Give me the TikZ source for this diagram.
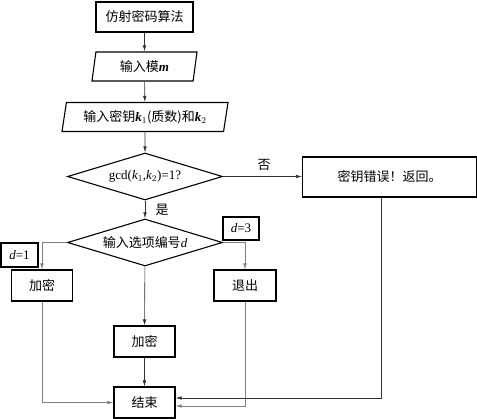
\documentclass[tikz,border=0pt]{standalone}
\usepackage{fontspec}
\setmainfont{Liberation Serif}
\newfontfamily\cjk{Noto Sans CJK SC}
\usetikzlibrary{positioning, arrows.meta, shapes.geometric}
\newcommand{\lat}[1]{{\rmfamily\itshape #1}}
\newcommand{\latb}[1]{{\rmfamily\bfseries\itshape #1}}

\begin{document}
\begin{tikzpicture}[
      x=1pt, y=-1pt,
      every node/.style={font=\cjk\fontsize{13}{15}\selectfont},
      procbox/.style={draw, line width=1.1pt, minimum width=61pt, minimum height=31pt, inner sep=0pt},
      iobox/.style={draw, line width=1.1pt, trapezium, trapezium left angle=72, trapezium right angle=108,
        minimum height=29pt, inner sep=0pt},
      testbox/.style={draw, line width=1.1pt, diamond, aspect=3.3, minimum width=155pt, minimum height=47pt, inner sep=0pt},
      tagbox/.style={draw, line width=1.1pt, inner sep=0pt},
      flow/.style={-{Latex[length=6pt,width=3.5pt]}, line width=0.6pt, black!80},
      branch/.style={flow, black!50},
    ]
    \useasboundingbox (0,0) rectangle (477,419);
    % main column
    \node[procbox, minimum width=97pt, minimum height=30pt] (start) at (144.5,17) {仿射密码算法};
    \node[iobox, trapezium stretches body, minimum width=105pt] (modm) at (144.5,66.5) {输入模\latb{m}};
    \node[iobox, trapezium stretches body, minimum width=166pt] (keys) at (145,117) {输入密钥\latb{k}$_1$(质数)和\latb{k}$_2$};
    \node[testbox] (gcd) at (145,176.5) {\rmfamily gcd(\lat{k}$_1$,\lat{k}$_2$)=1?};
    \node[procbox, minimum width=174pt, minimum height=40pt] (err) at (389.5,177) {密钥错误！返回。};
    \node[testbox] (opt) at (145,242.5) {输入选项编号\lat{d}};
    % branches
    \node[procbox] (enc1) at (42,285.5) {加密};
    \node[procbox, minimum width=62pt] (quit) at (245,285.5) {退出};
    \node[procbox] (enc2) at (144.5,341.5) {加密};
    \node[procbox] (stop) at (144.5,402.5) {结束};
    \node[tagbox, minimum width=37pt, minimum height=24pt] (tag1) at (19.5,255) {\rmfamily\lat{d}=1};
    \node[tagbox, minimum width=36pt, minimum height=23pt] (tag3) at (241,228.5) {\rmfamily\lat{d}=3};
    % labels
    \node (no) at (264,165) {否};
    \node (yes) at (162,210) {是};

    \draw[flow] (start) -- (modm);
    \draw[flow] (modm) -- (keys);
    \draw[flow] (keys) -- (gcd);
    \draw[flow] (gcd.east) -- (err.west |- gcd.east);
    \draw[flow] (gcd) -- (opt);
    \draw[branch] (opt.west) -| (enc1.north);
    \draw[branch] (opt.east) -| (quit.north);
    \draw[flow] (opt) -- (enc2);
    \draw[flow] (enc2) -- (stop);
    \draw[branch] (enc1.south) |- (stop.west);
    \draw[branch] (quit.south) |- ([yshift=-3.5pt]stop.east);
    \draw[flow] ([xshift=-8.5pt]err.south) |- ([yshift=4.5pt]stop.east);
  \end{tikzpicture}
\end{document}
